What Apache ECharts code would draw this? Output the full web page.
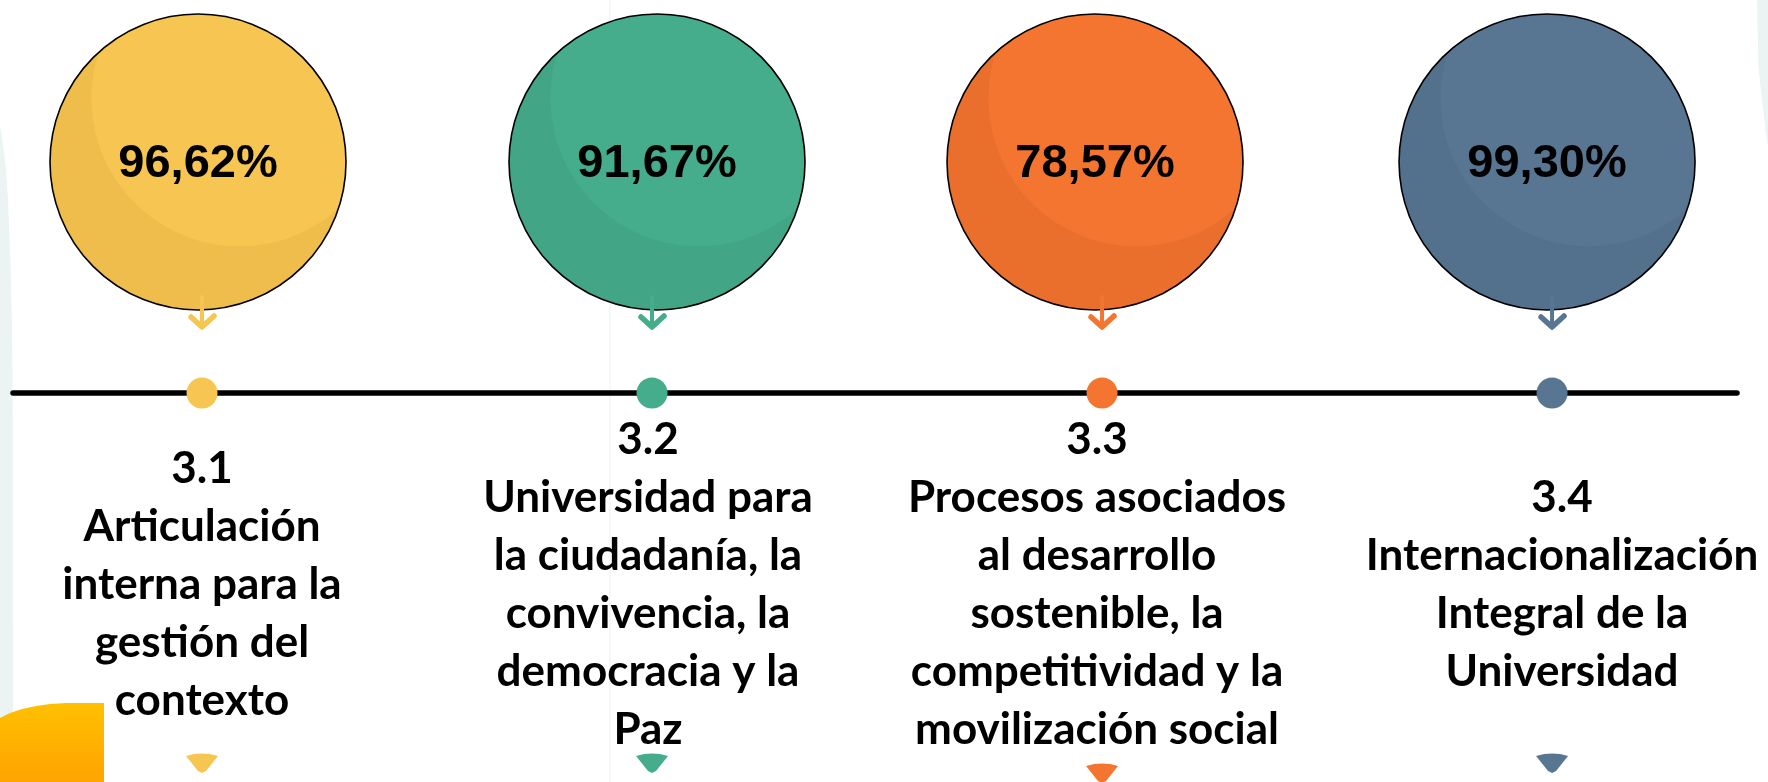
<!DOCTYPE html>
<html>
<head>
<meta charset="utf-8">
<script src="https://cdn.jsdelivr.net/npm/echarts@6/dist/echarts.min.js"></script>
<style>
  html, body { margin: 0; padding: 0; background: #fff; }
  #main { width: 1768px; height: 782px; }
</style>
</head>
<body>
<div id="main"></div>
<script>
    // ---- data ----
    var codes = ['3.1', '3.2', '3.3', '3.4'];
    var titles = [
        'Articulación\ninterna para la\ngestión del\ncontexto',
        'Universidad para\nla ciudadanía, la\nconvivencia, la\ndemocracia y la\nPaz',
        'Procesos asociados\nal desarrollo\nsostenible, la\ncompetitividad y la\nmovilización social',
        'Internacionalización\nIntegral de la\nUniversidad'
    ];
    var percents = [96.62, 91.67, 78.57, 99.30];

    // ---- styles ----
    // [light face, darker crescent]
    var palette = [
        ['#F7C552', '#EFBD4B'],
        ['#45AC8C', '#41A586'],
        ['#F37530', '#EA6F2D'],
        ['#587592', '#53708C']
    ];
    var bubbleShiftX = [-4, 5, -7, -5];
    var labelShiftX = [0, -4, -5, 10];
    var markerShiftY = [0, 0, 10, 0];

    var chartDom = document.getElementById('main');
    var myChart = echarts.init(chartDom);
    var option;

    function fmtPct(v) {
        return v.toFixed(2).replace('.', ',') + '%';
    }

    // lighter lens = intersection of the bubble with a copy shifted up-right
    function lensPoints(cx, cy, R, ox, oy) {
        var d = Math.sqrt(ox * ox + oy * oy);
        var phi = Math.atan2(oy, ox);
        var alpha = Math.acos(d / (2 * R));
        var pts = [];
        var n = 60, k, a;
        for (k = 0; k <= n; k++) {
            a = phi - alpha + 2 * alpha * k / n;
            pts.push([cx + R * Math.cos(a), cy + R * Math.sin(a)]);
        }
        for (k = 0; k <= n; k++) {
            a = phi + Math.PI - alpha + 2 * alpha * k / n;
            pts.push([cx + ox + R * Math.cos(a), cy + oy + R * Math.sin(a)]);
        }
        return pts;
    }

    function renderItem(params, api) {
        var i = api.value(0);
        var p = api.coord([i, 0]);
        var x = p[0], lineY = p[1];
        var light = palette[i][0], dark = palette[i][1];
        var R = 148;
        var cx = x + bubbleShiftX[i], cy = lineY - 231;
        var tx = x + labelShiftX[i];
        var ty = lineY + 361 + markerShiftY[i];

        return {
            type: 'group',
            children: [
                { type: 'circle', shape: { cx: cx, cy: cy, r: R }, style: { fill: dark } },
                { type: 'polygon', shape: { points: lensPoints(cx, cy, R, 0.28 * R, -0.43 * R) }, style: { fill: light } },
                { type: 'circle', shape: { cx: cx, cy: cy, r: R }, style: { fill: 'none', stroke: '#000', lineWidth: 1.6 } },
                {
                    type: 'text',
                    style: {
                        text: fmtPct(api.value(1)), x: cx, y: cy + 2,
                        align: 'center', verticalAlign: 'middle',
                        fontFamily: 'Liberation Sans', fontWeight: 'bold', fontSize: 47, fill: '#000'
                    }
                },
                // small arrow under the bubble
                { type: 'line', shape: { x1: x, y1: lineY - 96, x2: x, y2: lineY - 67 }, style: { stroke: light, lineWidth: 4, lineCap: 'round' } },
                { type: 'polyline', shape: { points: [[x - 11, lineY - 76], [x, lineY - 66], [x + 12, lineY - 77]] }, style: { fill: null, stroke: light, lineWidth: 5.5, lineCap: 'round', lineJoin: 'round' } },
                // dot on the timeline
                { type: 'circle', shape: { cx: x, cy: lineY, r: 15.5 }, style: { fill: light } },
                {
                    type: 'text',
                    style: {
                        text: codes[i] + '\n' + titles[i], x: tx, y: lineY + 192,
                        align: 'center', verticalAlign: 'middle',
                        fontFamily: 'Lato', fontWeight: 'bold', fontSize: 44, lineHeight: 58, fill: '#000'
                    }
                },
                // bottom marker
                {
                    type: 'polygon',
                    shape: { points: [[x - 16, ty + 2], [x - 8, ty], [x, ty - 0.5], [x + 8, ty], [x + 16, ty + 2], [x + 4, ty + 17], [x, ty + 19], [x - 4, ty + 17]] },
                    style: { fill: light }
                }
            ]
        };
    }

    option = {
        animation: false,
        backgroundColor: '#fff',
        grid: { left: 13, right: 31, top: 0, bottom: 389 },
        xAxis: {
            type: 'value',
            min: -0.42,
            max: 3.411,
            axisLine: { show: true, onZero: false, lineStyle: { color: '#000', width: 5.5, cap: 'round' } },
            axisTick: { show: false },
            axisLabel: { show: false },
            splitLine: { show: false }
        },
        yAxis: { type: 'value', min: 0, max: 100, show: false },
        graphic: [
            // soft background shapes of the slide
            {
                type: 'polygon', z: -10, silent: true,
                shape: { points: [[0, 125], [3, 145], [6, 170], [8, 200], [10.5, 260], [12, 330], [12.8, 420], [13, 782], [0, 782]] },
                style: { fill: '#EBF4F3' }
            },
            {
                type: 'polygon', z: -10, silent: true,
                shape: { points: [[1757, 0], [1768, 0], [1768, 146], [1766, 134], [1762, 100], [1758.5, 67]] },
                style: { fill: '#EBF4F3' }
            },
            {
                type: 'line', z: -10, silent: true,
                shape: { x1: 610, y1: 0, x2: 610, y2: 782 },
                style: { stroke: '#F4F4F4', lineWidth: 1.5 }
            },
            {
                type: 'polygon', z: -5, silent: true,
                shape: { points: [[0, 782], [0, 718], [10, 713], [22, 709], [36, 706], [50, 704], [66, 703], [104, 703], [104, 782]] },
                style: {
                    fill: new echarts.graphic.LinearGradient(0, 0, 0, 1, [
                        { offset: 0, color: '#FFC000' },
                        { offset: 1, color: '#FFA400' }
                    ])
                }
            }
        ],
        series: [
            {
                type: 'custom',
                clip: false,
                renderItem: renderItem,
                encode: { x: 0, y: 1 },
                data: percents.map(function (v, i) { return [i, v]; })
            }
        ]
    };

    option && myChart.setOption(option);
</script>
</body>
</html>
